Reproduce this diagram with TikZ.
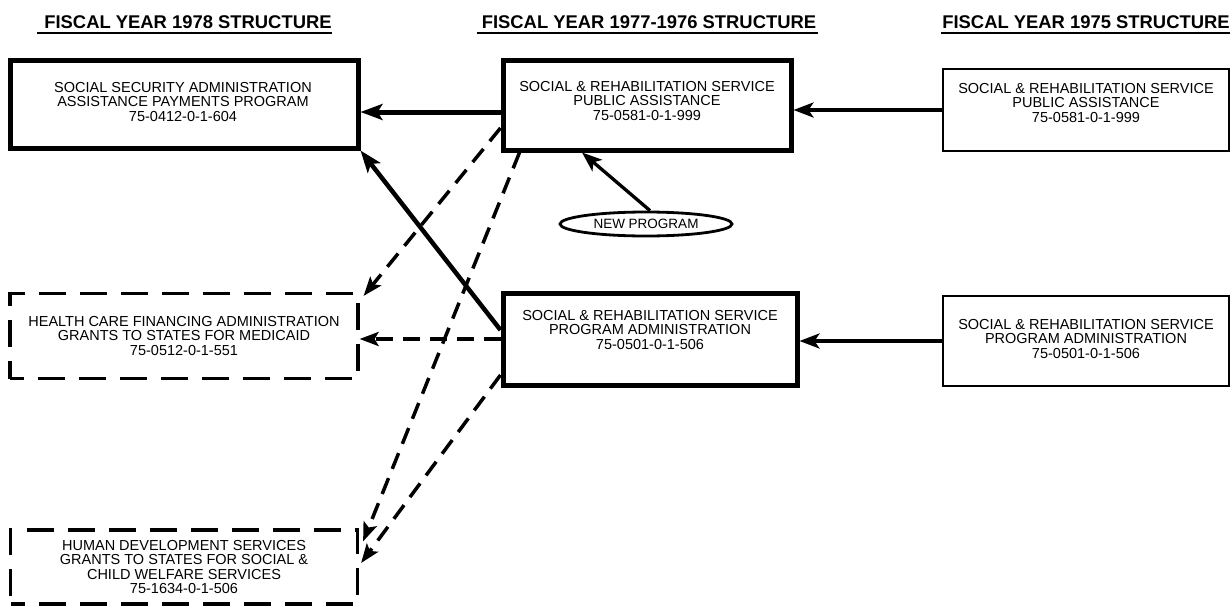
\documentclass[tikz,border=0pt]{standalone}
\usepackage{fontspec}
\setmainfont{Liberation Sans}
\usetikzlibrary{arrows.meta,shapes.geometric}
\begin{document}
\begin{tikzpicture}[x=1pt,y=-1pt,
  boxthick/.style={draw,line width=5pt,rectangle,inner sep=0pt},
  boxthin/.style={draw,line width=2.8pt,rectangle,inner sep=0pt},
  boxdash/.style={draw,line width=3.2pt,rectangle,inner sep=0pt,dash pattern=on 27pt off 14pt,dash phase=13pt},
  boxtext/.style={align=center,font=\fontsize{14.5}{14.5}\selectfont,inner sep=0pt},
  heading/.style={font=\fontsize{18.4}{20}\selectfont\bfseries,inner sep=0pt},
  uline/.style={line width=2.2pt},
  arrowthick/.style={line width=5pt,-{Stealth[length=22pt,width=16pt,inset=5pt]}},
  arrowmid/.style={line width=4.5pt,-{Stealth[length=22pt,width=16pt,inset=5pt]}},
  arrowthin/.style={line width=3.3pt,-{Stealth[length=20pt,width=15pt,inset=5pt]}},
  dasharrow/.style={line width=3.5pt,dash pattern=on 17pt off 10pt,-{Stealth[length=19pt,width=14pt,inset=4pt]}},
  oval/.style={draw,ellipse,line width=2.8pt,inner sep=0pt,minimum width=172pt,minimum height=24pt,font=\fontsize{13.5}{14}\selectfont}
]
\useasboundingbox (0,0) rectangle (1232,613);

% headings
\node[heading] (h1) at (188,22) {FISCAL YEAR 1978 STRUCTURE};
\node[heading] (h2) at (649,22) {FISCAL YEAR 1977-1976 STRUCTURE};
\node[heading] (h3) at (1086,22) {FISCAL YEAR 1975 STRUCTURE};
\draw[uline] ([xshift=-7pt,yshift=-4pt]h1.south west) -- ([yshift=-4pt]h1.south east);
\draw[uline] ([xshift=-5pt,yshift=-4pt]h2.south west) -- ([xshift=2pt,yshift=-4pt]h2.south east);
\draw[uline] ([xshift=-1pt,yshift=-4pt]h3.south west) -- ([yshift=-4pt]h3.south east);

% boxes
\node[boxthick,minimum width=348pt,minimum height=88pt] (aBox) at (184,104) {};
\node[boxtext] (aText) at (183,102) {SOCIAL SECURITY ADMINISTRATION\\ASSISTANCE PAYMENTS PROGRAM\\75-0412-0-1-604};

\node[boxthick,minimum width=288pt,minimum height=90pt] (bBox) at (647,105) {};
\node[boxtext] (bText) at (647,101) {SOCIAL \& REHABILITATION SERVICE\\PUBLIC ASSISTANCE\\75-0581-0-1-999};

\node[boxthin,minimum width=286pt,minimum height=82pt] (cBox) at (1086,110) {};
\node[boxtext] (cText) at (1086,103) {SOCIAL \& REHABILITATION SERVICE\\PUBLIC ASSISTANCE\\75-0581-0-1-999};

\node[boxdash,minimum width=348pt,minimum height=85pt] (dBox) at (184,336) {};
\node[boxtext] (dText) at (184,336) {HEALTH CARE FINANCING ADMINISTRATION\\GRANTS TO STATES FOR MEDICAID\\75-0512-0-1-551};

\node[boxthick,minimum width=294pt,minimum height=92pt] (eBox) at (650,339) {};
\node[boxtext] (eText) at (650,330) {SOCIAL \& REHABILITATION SERVICE\\PROGRAM ADMINISTRATION\\75-0501-0-1-506};

\node[boxthin,minimum width=286pt,minimum height=90pt] (fBox) at (1086,341) {};
\node[boxtext] (fText) at (1086,339) {SOCIAL \& REHABILITATION SERVICE\\PROGRAM ADMINISTRATION\\75-0501-0-1-506};

\node[boxdash,minimum width=347pt,minimum height=74pt] (gBox) at (184,567) {};
\node[boxtext] (gText) at (184,567) {HUMAN DEVELOPMENT SERVICES\\GRANTS TO STATES FOR SOCIAL \&\\CHILD WELFARE SERVICES\\75-1634-0-1-506};

\node[oval] (newp) at (646,224) {NEW PROGRAM};

% connectors
\draw[arrowthin] (cBox.west) -- (cBox.west -| bBox.east);
\draw[arrowthick] ([yshift=-7pt]bBox.west) -- ([yshift=-7pt]bBox.west -| aBox.east);
\draw[arrowmid] ([yshift=9pt]eBox.west) -- (aBox.south east);
\draw[arrowthin] (fBox.west) -- (fBox.west -| eBox.east);
\draw[dasharrow] (eBox.west) -- (eBox.west -| dBox.east);
\draw[dasharrow] ([yshift=-23pt]bBox.west) -- ([xshift=4pt,yshift=-4pt]dBox.north east);
\draw[dasharrow] ([xshift=19pt]bBox.south west) -- ([xshift=4pt,yshift=-13pt]gBox.north east);
\draw[dasharrow] ([yshift=-36pt]eBox.west) -- ([xshift=2pt,yshift=4pt]gBox.east);
\draw[arrowthin] ([xshift=4pt]newp.north) -- ([xshift=-65pt]bBox.south);
\end{tikzpicture}
\end{document}
